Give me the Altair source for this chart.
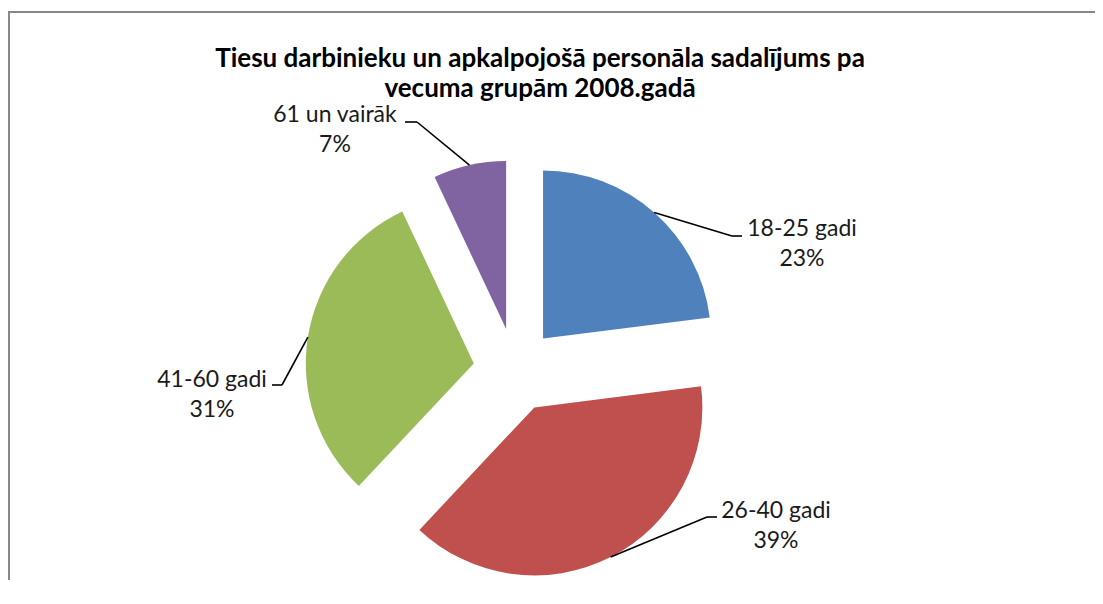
import altair as alt
import pandas as pd

# ---- data ----
categories = ["18-25 gadi", "26-40 gadi", "41-60 gadi", "61 un vairāk"]
values = [23, 39, 31, 7]
colors = ["#4F81BD", "#C0504D", "#9BBB59", "#8064A2"]
title_lines = ["Tiesu darbinieku un apkalpojošā personāla sadalījums pa",
               "vecuma grupām 2008.gadā"]

# ---- layout (page coordinates) ----
label_x = [802, 776, 212, 335]
label_y = [236, 518, 387, 122]
elbow_x = [732, 707, 282, 417]
elbow_y = [236, 517, 385, 122]
end_x = [742, 717, 272, 405]
end_y = [236, 517, 385, 122]

W, H = 1087, 572
M = 8  # page margin
CX, CY = 515.3, 370.0   # pie centre
D = 42.0                # explosion distance
R = 168.0               # pie radius

df = pd.DataFrame({
    "order": list(range(len(categories))),
    "category": categories,
    "value": values,
    "lx": label_x, "ly": label_y,
    "ex": elbow_x, "ey": elbow_y,
    "tx": end_x, "ty": end_y,
})

xs = alt.Scale(domain=[M, M + W])
ys = alt.Scale(domain=[M, M + H], reverse=True)

base = alt.Chart(df).transform_window(
    cum="sum(value)", frame=[None, 0], sort=[alt.SortField("order")]
).transform_joinaggregate(
    total="sum(value)"
).transform_calculate(
    start="datum.cum - datum.value",
    mid="2*PI*(datum.cum - datum.value/2)/datum.total",
).transform_calculate(
    vx=f"{CX} + {D}*sin(datum.mid)",
    vy=f"{CY} - {D}*cos(datum.mid)",
).transform_calculate(
    sx=f"datum.vx + {R}*sin(datum.mid)",
    sy=f"datum.vy - {R}*cos(datum.mid)",
    label="datum.category + '\\n' + round(100*datum.value/datum.total) + '%'",
)

slices = base.mark_arc(radius=R).encode(
    theta=alt.Theta("start:Q", scale=alt.Scale(domain=[0, sum(values)])),
    theta2="cum:Q",
    x=alt.X("vx:Q", scale=xs, axis=None),
    y=alt.Y("vy:Q", scale=ys, axis=None),
    color=alt.Color("category:N", scale=alt.Scale(domain=categories, range=colors), legend=None),
)

seg1 = base.mark_rule(color="#000000", strokeWidth=1.6).encode(
    x=alt.X("sx:Q", scale=xs, axis=None),
    y=alt.Y("sy:Q", scale=ys, axis=None),
    x2="ex:Q",
    y2="ey:Q",
)
seg2 = base.mark_rule(color="#000000", strokeWidth=1.6).encode(
    x=alt.X("ex:Q", scale=xs, axis=None),
    y=alt.Y("ey:Q", scale=ys, axis=None),
    x2="tx:Q",
    y2="ty:Q",
)

labels = base.mark_text(
    font="Lato", fontSize=23, lineBreak="\n", lineHeight=30,
    align="center", baseline="alphabetic", color="#1a1a1a",
).encode(
    x=alt.X("lx:Q", scale=xs, axis=None),
    y=alt.Y("ly:Q", scale=ys, axis=None),
    text="label:N",
)

one = alt.Chart(pd.DataFrame({"t": [0]}))
title = one.mark_text(
    font="Lato", fontSize=26, fontWeight="bold", lineHeight=30,
    align="center", baseline="alphabetic", color="#000000",
).encode(
    x=alt.value(540 - M), y=alt.value(67 - M), text=alt.value(title_lines)
)

border_top = one.mark_rule(color="#878787", strokeWidth=2).encode(
    x=alt.value(0), x2=alt.value(W + 20), y=alt.value(12 - M)
)
border_left = one.mark_rule(color="#878787", strokeWidth=2).encode(
    x=alt.value(1), y=alt.value(12 - M - 1), y2=alt.value(H + 20)
)

chart = alt.layer(
    border_top, border_left, slices, seg1, seg2, labels, title
).properties(
    width=W, height=H,
    autosize=alt.AutoSizeParams(type="none"),
    padding=0,
    background="white",
).configure_view(stroke=None)

chart.save("out.html", embed_options={"renderer": "svg", "actions": False})
